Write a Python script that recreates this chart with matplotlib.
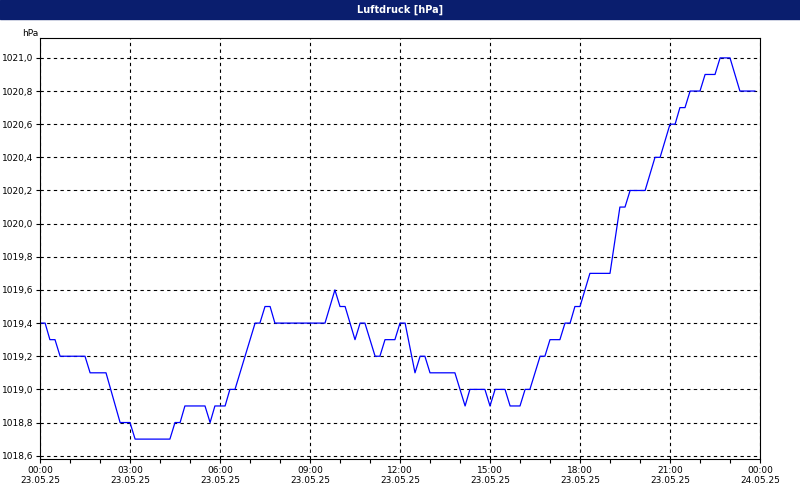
import matplotlib.pyplot as plt
from matplotlib.patches import Rectangle

# hours since 23.05.25 00:00, pressure in hPa
hours = [0, 0.17, 0.33, 0.5, 0.67, 1.5, 1.67, 2.2, 2.67, 3.0, 3.17, 4.33, 4.5, 4.67,
         4.83, 5.5, 5.67, 5.83, 6.17, 6.33, 6.5, 7.17, 7.33, 7.5, 7.67, 7.83, 9.5,
         9.83, 10.0, 10.17, 10.5, 10.67, 10.83, 11.17, 11.33, 11.5, 11.83, 12.0,
         12.17, 12.5, 12.67, 12.83, 13.0, 13.83, 14.17, 14.33, 14.83, 15.0, 15.17,
         15.5, 15.67, 16.0, 16.17, 16.33, 16.67, 16.83, 17.0, 17.33, 17.5, 17.67,
         17.83, 18.0, 18.33, 19.0, 19.33, 19.5, 19.67, 20.17, 20.5, 20.67, 21.0,
         21.17, 21.33, 21.5, 21.67, 22.0, 22.17, 22.5, 22.67, 23.0, 23.33, 23.83]
pressure = [1019.4, 1019.4, 1019.3, 1019.3, 1019.2, 1019.2, 1019.1, 1019.1, 1018.8,
            1018.8, 1018.7, 1018.7, 1018.8, 1018.8, 1018.9, 1018.9, 1018.8, 1018.9,
            1018.9, 1019.0, 1019.0, 1019.4, 1019.4, 1019.5, 1019.5, 1019.4, 1019.4,
            1019.6, 1019.5, 1019.5, 1019.3, 1019.4, 1019.4, 1019.2, 1019.2, 1019.3,
            1019.3, 1019.4, 1019.4, 1019.1, 1019.2, 1019.2, 1019.1, 1019.1, 1018.9,
            1019.0, 1019.0, 1018.9, 1019.0, 1019.0, 1018.9, 1018.9, 1019.0, 1019.0,
            1019.2, 1019.2, 1019.3, 1019.3, 1019.4, 1019.4, 1019.5, 1019.5, 1019.7,
            1019.7, 1020.1, 1020.1, 1020.2, 1020.2, 1020.4, 1020.4, 1020.6, 1020.6,
            1020.7, 1020.7, 1020.8, 1020.8, 1020.9, 1020.9, 1021.0, 1021.0, 1020.8,
            1020.8]

xticks = [0, 3, 6, 9, 12, 15, 18, 21, 24]
xlabels = ["00:00\n23.05.25", "03:00\n23.05.25", "06:00\n23.05.25", "09:00\n23.05.25",
           "12:00\n23.05.25", "15:00\n23.05.25", "18:00\n23.05.25", "21:00\n23.05.25",
           "00:00\n24.05.25"]
yticks = [1018.6, 1018.8, 1019.0, 1019.2, 1019.4, 1019.6, 1019.8, 1020.0,
          1020.2, 1020.4, 1020.6, 1020.8, 1021.0]

fig = plt.figure(figsize=(8, 5), dpi=100)
# title bar
fig.patches.append(Rectangle((0, 0.962), 1, 0.038, transform=fig.transFigure,
                             color="#0a1e6e", zorder=0))
fig.text(0.5, 0.981, "Luftdruck [hPa]", color="white", fontsize=7, weight="bold",
         ha="center", va="center")

ax = fig.add_axes([0.05, 0.082, 0.90, 0.842])
ax.plot(hours, pressure, color="#0000ff", lw=0.9)
ax.set_xlim(0, 24)
ax.set_ylim(1018.58, 1021.12)
ax.set_xticks(xticks)
ax.set_xticklabels(xlabels, fontsize=6.5)
ax.set_xticks(range(25), minor=True)
ax.set_yticks(yticks)
ax.set_yticklabels([f"{v:.1f}".replace(".", ",") for v in yticks], fontsize=6.5)
ax.grid(True, color="black", ls=(0, (3, 3)), lw=0.8)
ax.tick_params(length=3, width=0.8, pad=2)
ax.tick_params(which="minor", length=3, width=0.8)
ax.text(-0.025, 1.0, "hPa", transform=ax.transAxes, fontsize=6.5, ha="left", va="bottom")

fig.savefig("out.png", dpi=100)
